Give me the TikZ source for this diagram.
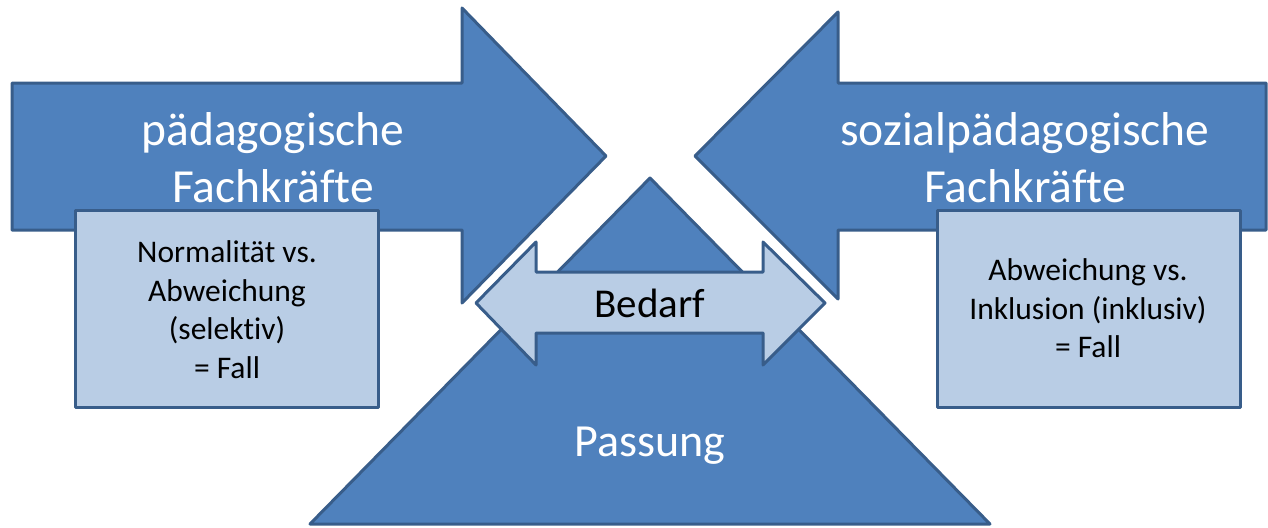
\documentclass[tikz,border=0pt]{standalone}
\usepackage{fontspec}
\setmainfont[RawFeature={-liga}]{Carlito}
\definecolor{fillblue}{HTML}{4F81BD}
\definecolor{edgeblue}{HTML}{385D8A}
\definecolor{lightblue}{HTML}{B9CDE5}
\begin{document}
\begin{tikzpicture}[x=1pt,y=-1pt,
  darkshape/.style={fill=fillblue, draw=edgeblue, line width=3pt, line join=round},
  lightshape/.style={fill=lightblue, draw=edgeblue, line width=3pt, line join=round},
  bigtext/.style={text=white, inner sep=0pt, align=center, font=\fontsize{47.5}{57}\selectfont},
  smalltext/.style={text=black, inner sep=0pt, align=center, font=\fontsize{31.5}{38.5}\selectfont}]
\useasboundingbox (0,0) rectangle (1268,527);
% left arrow
\draw[darkshape] (12,83) -- (462,83) -- (462,8) -- (606,156) -- (462,303) -- (462,230) -- (12,230) -- cycle;
% right arrow
\draw[darkshape] (1266,83) -- (838,83) -- (838,12) -- (695,156) -- (838,299) -- (838,230) -- (1266,230) -- cycle;
% triangle
\draw[darkshape] (650,178) -- (990,524) -- (310,524) -- cycle;
% double arrow
\draw[lightshape] (476,303) -- (536,242) -- (536,272) -- (763,272) -- (763,242) -- (825,303) -- (763,365) -- (763,333) -- (536,333) -- (536,365) -- cycle;
% boxes
\draw[lightshape] (75,210) rectangle (378,407);
\draw[lightshape] (937,210) rectangle (1240,407);
% texts
\node[bigtext] (ped) at (273,158) {pädagogische\\Fachkräfte};
\node[bigtext] (soz) at (1025,158) {sozialpädagogische\\Fachkräfte};
\node[smalltext] (norm) at (227,309.5) {Normalität vs.\\Abweichung\\(selektiv)\\= Fall};
\node[smalltext] (abw) at (1088,308.5) {Abweichung vs.\\Inklusion (inklusiv)\\= Fall};
\node[text=black, inner sep=0pt, anchor=base, font=\fontsize{41}{49}\selectfont] (bedarf) at (650,317) {Bedarf};
\node[text=white, inner sep=0pt, anchor=base, font=\fontsize{46}{55}\selectfont] (passung) at (650,456) {Passung};
\end{tikzpicture}
\end{document}
